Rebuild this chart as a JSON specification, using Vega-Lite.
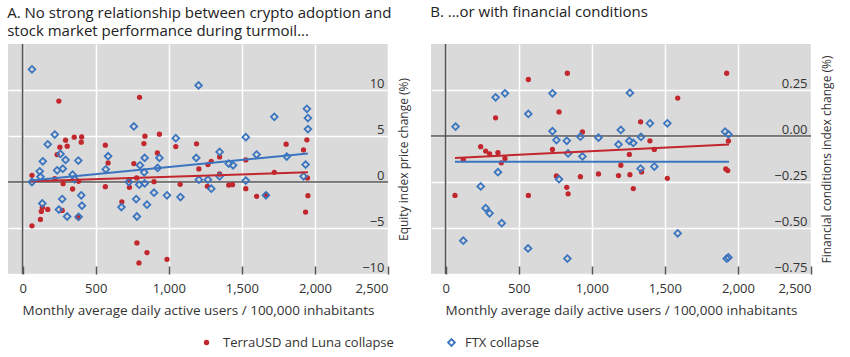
{
  "$schema": "https://vega.github.io/schema/vega-lite/v6.json",
  "padding": {"left": 7, "top": 5, "right": 5, "bottom": 5},
  "background": "white",
  "bounds": "flush",
  "spacing": 43,
  "config": {
    "font": "Open Sans",
    "view": {"fill": "#dadada", "stroke": null},
    "axis": {"grid": true, "gridColor": "white", "gridWidth": 1.5, "domain": false, "labelFontSize": 13, "labelColor": "#333", "titleFontSize": 13.5, "titleFontWeight": "normal", "titleColor": "#333", "labelOverlap": false},
    "axisX": {"tickSize": -8, "tickColor": "#555", "tickWidth": 1.5, "labelPadding": 16, "titlePadding": 8},
    "axisY": {"ticks": false, "labelAlign": "right", "labelPadding": -4, "labelBaseline": "bottom", "titleAngle": 270, "titleFontSize": 12, "titlePadding": 22},
    "title": {"anchor": "start", "fontSize": 15, "fontWeight": "normal", "color": "#222", "lineHeight": 18.5},
    "legend": {"labelFontSize": 13, "labelColor": "#333", "labelLimit": 400}
  },
  "datasets": {
    "pts": [
      {"p":"A","s":"TerraUSD and Luna collapse","x":64,"y":0.73},{"p":"A","s":"TerraUSD and Luna collapse","x":64,"y":-4.76},{"p":"A","s":"TerraUSD and Luna collapse","x":122,"y":-4.07},{"p":"A","s":"TerraUSD and Luna collapse","x":128,"y":-3.2},{"p":"A","s":"TerraUSD and Luna collapse","x":135,"y":-2.76},{"p":"A","s":"TerraUSD and Luna collapse","x":172,"y":-2.98},{"p":"A","s":"TerraUSD and Luna collapse","x":271,"y":-3.09},{"p":"A","s":"TerraUSD and Luna collapse","x":220,"y":0.36},{"p":"A","s":"TerraUSD and Luna collapse","x":277,"y":-0.18},{"p":"A","s":"TerraUSD and Luna collapse","x":342,"y":-0.76},{"p":"A","s":"TerraUSD and Luna collapse","x":383,"y":0.07},{"p":"A","s":"TerraUSD and Luna collapse","x":378,"y":-3.82},{"p":"A","s":"TerraUSD and Luna collapse","x":236,"y":2.98},{"p":"A","s":"TerraUSD and Luna collapse","x":255,"y":3.78},{"p":"A","s":"TerraUSD and Luna collapse","x":294,"y":4.55},{"p":"A","s":"TerraUSD and Luna collapse","x":305,"y":3.89},{"p":"A","s":"TerraUSD and Luna collapse","x":353,"y":4.87},{"p":"A","s":"TerraUSD and Luna collapse","x":404,"y":4.9},{"p":"A","s":"TerraUSD and Luna collapse","x":401,"y":4.33},{"p":"A","s":"TerraUSD and Luna collapse","x":248,"y":8.8},{"p":"A","s":"TerraUSD and Luna collapse","x":566,"y":4.0},{"p":"A","s":"TerraUSD and Luna collapse","x":585,"y":2.07},{"p":"A","s":"TerraUSD and Luna collapse","x":566,"y":-0.51},{"p":"A","s":"TerraUSD and Luna collapse","x":800,"y":9.2},{"p":"A","s":"TerraUSD and Luna collapse","x":837,"y":4.98},{"p":"A","s":"TerraUSD and Luna collapse","x":830,"y":4.18},{"p":"A","s":"TerraUSD and Luna collapse","x":936,"y":5.2},{"p":"A","s":"TerraUSD and Luna collapse","x":922,"y":3.16},{"p":"A","s":"TerraUSD and Luna collapse","x":761,"y":2.0},{"p":"A","s":"TerraUSD and Luna collapse","x":729,"y":0.25},{"p":"A","s":"TerraUSD and Luna collapse","x":731,"y":-0.58},{"p":"A","s":"TerraUSD and Luna collapse","x":780,"y":0.44},{"p":"A","s":"TerraUSD and Luna collapse","x":899,"y":0.04},{"p":"A","s":"TerraUSD and Luna collapse","x":679,"y":-2.15},{"p":"A","s":"TerraUSD and Luna collapse","x":782,"y":-6.62},{"p":"A","s":"TerraUSD and Luna collapse","x":851,"y":-7.67},{"p":"A","s":"TerraUSD and Luna collapse","x":796,"y":-8.8},{"p":"A","s":"TerraUSD and Luna collapse","x":988,"y":-8.4},{"p":"A","s":"TerraUSD and Luna collapse","x":1048,"y":3.85},{"p":"A","s":"TerraUSD and Luna collapse","x":1078,"y":-0.25},{"p":"A","s":"TerraUSD and Luna collapse","x":1190,"y":4.15},{"p":"A","s":"TerraUSD and Luna collapse","x":1206,"y":1.42},{"p":"A","s":"TerraUSD and Luna collapse","x":1268,"y":1.89},{"p":"A","s":"TerraUSD and Luna collapse","x":1291,"y":2.25},{"p":"A","s":"TerraUSD and Luna collapse","x":1264,"y":-0.47},{"p":"A","s":"TerraUSD and Luna collapse","x":1348,"y":2.73},{"p":"A","s":"TerraUSD and Luna collapse","x":1348,"y":0.87},{"p":"A","s":"TerraUSD and Luna collapse","x":1410,"y":-0.33},{"p":"A","s":"TerraUSD and Luna collapse","x":1436,"y":-0.29},{"p":"A","s":"TerraUSD and Luna collapse","x":1527,"y":2.4},{"p":"A","s":"TerraUSD and Luna collapse","x":1527,"y":-0.73},{"p":"A","s":"TerraUSD and Luna collapse","x":1601,"y":-1.56},{"p":"A","s":"TerraUSD and Luna collapse","x":1665,"y":-1.38},{"p":"A","s":"TerraUSD and Luna collapse","x":1722,"y":1.05},{"p":"A","s":"TerraUSD and Luna collapse","x":1803,"y":4.11},{"p":"A","s":"TerraUSD and Luna collapse","x":1922,"y":3.49},{"p":"A","s":"TerraUSD and Luna collapse","x":1945,"y":4.58},{"p":"A","s":"TerraUSD and Luna collapse","x":1949,"y":0.44},{"p":"A","s":"TerraUSD and Luna collapse","x":1952,"y":-1.49},{"p":"A","s":"TerraUSD and Luna collapse","x":1936,"y":-3.27},
      {"p":"A","s":"FTX collapse","x":64,"y":12.25},{"p":"A","s":"FTX collapse","x":220,"y":5.16},{"p":"A","s":"FTX collapse","x":172,"y":4.1},{"p":"A","s":"FTX collapse","x":138,"y":2.25},{"p":"A","s":"FTX collapse","x":117,"y":1.16},{"p":"A","s":"FTX collapse","x":122,"y":0.58},{"p":"A","s":"FTX collapse","x":64,"y":0},{"p":"A","s":"FTX collapse","x":236,"y":1.27},{"p":"A","s":"FTX collapse","x":275,"y":1.45},{"p":"A","s":"FTX collapse","x":294,"y":2.4},{"p":"A","s":"FTX collapse","x":259,"y":3.05},{"p":"A","s":"FTX collapse","x":342,"y":0.8},{"p":"A","s":"FTX collapse","x":356,"y":0.29},{"p":"A","s":"FTX collapse","x":381,"y":2.33},{"p":"A","s":"FTX collapse","x":401,"y":-1.45},{"p":"A","s":"FTX collapse","x":406,"y":-2.58},{"p":"A","s":"FTX collapse","x":383,"y":-3.78},{"p":"A","s":"FTX collapse","x":305,"y":-3.75},{"p":"A","s":"FTX collapse","x":248,"y":-3.0},{"p":"A","s":"FTX collapse","x":271,"y":-1.85},{"p":"A","s":"FTX collapse","x":135,"y":-2.33},{"p":"A","s":"FTX collapse","x":569,"y":1.38},{"p":"A","s":"FTX collapse","x":585,"y":2.8},{"p":"A","s":"FTX collapse","x":761,"y":6.04},{"p":"A","s":"FTX collapse","x":803,"y":1.82},{"p":"A","s":"FTX collapse","x":835,"y":2.62},{"p":"A","s":"FTX collapse","x":832,"y":1.05},{"p":"A","s":"FTX collapse","x":798,"y":-0.29},{"p":"A","s":"FTX collapse","x":835,"y":-0.15},{"p":"A","s":"FTX collapse","x":727,"y":0},{"p":"A","s":"FTX collapse","x":777,"y":-1.85},{"p":"A","s":"FTX collapse","x":851,"y":-2.47},{"p":"A","s":"FTX collapse","x":676,"y":-2.73},{"p":"A","s":"FTX collapse","x":782,"y":-3.75},{"p":"A","s":"FTX collapse","x":899,"y":-1.16},{"p":"A","s":"FTX collapse","x":936,"y":2.62},{"p":"A","s":"FTX collapse","x":924,"y":1.53},{"p":"A","s":"FTX collapse","x":988,"y":-1.45},{"p":"A","s":"FTX collapse","x":1048,"y":4.76},{"p":"A","s":"FTX collapse","x":1080,"y":-1.64},{"p":"A","s":"FTX collapse","x":1188,"y":2.62},{"p":"A","s":"FTX collapse","x":1204,"y":10.5},{"p":"A","s":"FTX collapse","x":1206,"y":0.25},{"p":"A","s":"FTX collapse","x":1268,"y":0.25},{"p":"A","s":"FTX collapse","x":1291,"y":-0.73},{"p":"A","s":"FTX collapse","x":1348,"y":0.62},{"p":"A","s":"FTX collapse","x":1348,"y":3.27},{"p":"A","s":"FTX collapse","x":1410,"y":2.0},{"p":"A","s":"FTX collapse","x":1440,"y":1.82},{"p":"A","s":"FTX collapse","x":1527,"y":4.87},{"p":"A","s":"FTX collapse","x":1527,"y":0.15},{"p":"A","s":"FTX collapse","x":1601,"y":2.98},{"p":"A","s":"FTX collapse","x":1665,"y":-1.45},{"p":"A","s":"FTX collapse","x":1722,"y":7.09},{"p":"A","s":"FTX collapse","x":1807,"y":2.76},{"p":"A","s":"FTX collapse","x":1945,"y":7.96},{"p":"A","s":"FTX collapse","x":1952,"y":6.95},{"p":"A","s":"FTX collapse","x":1952,"y":5.75},{"p":"A","s":"FTX collapse","x":1936,"y":1.89},{"p":"A","s":"FTX collapse","x":1922,"y":0.62},
      {"p":"B","s":"TerraUSD and Luna collapse","x":833,"y":0.341},{"p":"B","s":"TerraUSD and Luna collapse","x":566,"y":0.307},{"p":"B","s":"TerraUSD and Luna collapse","x":342,"y":0.099},{"p":"B","s":"TerraUSD and Luna collapse","x":776,"y":0.131},{"p":"B","s":"TerraUSD and Luna collapse","x":240,"y":-0.058},{"p":"B","s":"TerraUSD and Luna collapse","x":274,"y":-0.082},{"p":"B","s":"TerraUSD and Luna collapse","x":301,"y":-0.097},{"p":"B","s":"TerraUSD and Luna collapse","x":358,"y":-0.091},{"p":"B","s":"TerraUSD and Luna collapse","x":406,"y":-0.122},{"p":"B","s":"TerraUSD and Luna collapse","x":381,"y":-0.146},{"p":"B","s":"TerraUSD and Luna collapse","x":121,"y":-0.128},{"p":"B","s":"TerraUSD and Luna collapse","x":64,"y":-0.323},{"p":"B","s":"TerraUSD and Luna collapse","x":566,"y":-0.323},{"p":"B","s":"TerraUSD and Luna collapse","x":731,"y":-0.073},{"p":"B","s":"TerraUSD and Luna collapse","x":758,"y":-0.217},{"p":"B","s":"TerraUSD and Luna collapse","x":829,"y":-0.279},{"p":"B","s":"TerraUSD and Luna collapse","x":838,"y":-0.314},{"p":"B","s":"TerraUSD and Luna collapse","x":922,"y":-0.221},{"p":"B","s":"TerraUSD and Luna collapse","x":936,"y":0.022},{"p":"B","s":"TerraUSD and Luna collapse","x":1046,"y":-0.206},{"p":"B","s":"TerraUSD and Luna collapse","x":1183,"y":-0.215},{"p":"B","s":"TerraUSD and Luna collapse","x":1199,"y":-0.159},{"p":"B","s":"TerraUSD and Luna collapse","x":1257,"y":-0.1},{"p":"B","s":"TerraUSD and Luna collapse","x":1261,"y":-0.21},{"p":"B","s":"TerraUSD and Luna collapse","x":1284,"y":-0.286},{"p":"B","s":"TerraUSD and Luna collapse","x":1334,"y":0.077},{"p":"B","s":"TerraUSD and Luna collapse","x":1341,"y":-0.195},{"p":"B","s":"TerraUSD and Luna collapse","x":1398,"y":-0.026},{"p":"B","s":"TerraUSD and Luna collapse","x":1428,"y":-0.073},{"p":"B","s":"TerraUSD and Luna collapse","x":1517,"y":-0.23},{"p":"B","s":"TerraUSD and Luna collapse","x":1588,"y":0.206},{"p":"B","s":"TerraUSD and Luna collapse","x":1923,"y":0.341},{"p":"B","s":"TerraUSD and Luna collapse","x":1935,"y":-0.027},{"p":"B","s":"TerraUSD and Luna collapse","x":1917,"y":-0.179},{"p":"B","s":"TerraUSD and Luna collapse","x":1930,"y":-0.188},
      {"p":"B","s":"FTX collapse","x":68,"y":0.051},{"p":"B","s":"FTX collapse","x":342,"y":0.21},{"p":"B","s":"FTX collapse","x":406,"y":0.232},{"p":"B","s":"FTX collapse","x":358,"y":-0.197},{"p":"B","s":"FTX collapse","x":240,"y":-0.274},{"p":"B","s":"FTX collapse","x":274,"y":-0.392},{"p":"B","s":"FTX collapse","x":301,"y":-0.42},{"p":"B","s":"FTX collapse","x":384,"y":-0.474},{"p":"B","s":"FTX collapse","x":121,"y":-0.569},{"p":"B","s":"FTX collapse","x":566,"y":0.12},{"p":"B","s":"FTX collapse","x":564,"y":-0.611},{"p":"B","s":"FTX collapse","x":731,"y":0.232},{"p":"B","s":"FTX collapse","x":731,"y":0.026},{"p":"B","s":"FTX collapse","x":758,"y":-0.022},{"p":"B","s":"FTX collapse","x":829,"y":-0.026},{"p":"B","s":"FTX collapse","x":838,"y":-0.095},{"p":"B","s":"FTX collapse","x":776,"y":-0.235},{"p":"B","s":"FTX collapse","x":833,"y":-0.666},{"p":"B","s":"FTX collapse","x":922,"y":-0.004},{"p":"B","s":"FTX collapse","x":936,"y":-0.111},{"p":"B","s":"FTX collapse","x":1046,"y":-0.009},{"p":"B","s":"FTX collapse","x":1183,"y":-0.046},{"p":"B","s":"FTX collapse","x":1199,"y":0.033},{"p":"B","s":"FTX collapse","x":1261,"y":0.234},{"p":"B","s":"FTX collapse","x":1257,"y":-0.027},{"p":"B","s":"FTX collapse","x":1284,"y":-0.038},{"p":"B","s":"FTX collapse","x":1337,"y":-0.005},{"p":"B","s":"FTX collapse","x":1398,"y":0.069},{"p":"B","s":"FTX collapse","x":1334,"y":-0.177},{"p":"B","s":"FTX collapse","x":1428,"y":-0.166},{"p":"B","s":"FTX collapse","x":1517,"y":0.069},{"p":"B","s":"FTX collapse","x":1588,"y":-0.529},{"p":"B","s":"FTX collapse","x":1912,"y":0.024},{"p":"B","s":"FTX collapse","x":1935,"y":0.009},{"p":"B","s":"FTX collapse","x":1923,"y":-0.666},{"p":"B","s":"FTX collapse","x":1935,"y":-0.66}
    ],
    "fit": [
      {"p":"A","s":"TerraUSD and Luna collapse","x":55,"y":0.07},{"p":"A","s":"TerraUSD and Luna collapse","x":1952,"y":1.05},
      {"p":"A","s":"FTX collapse","x":55,"y":0.15},{"p":"A","s":"FTX collapse","x":1952,"y":3.1},
      {"p":"B","s":"TerraUSD and Luna collapse","x":64,"y":-0.119},{"p":"B","s":"TerraUSD and Luna collapse","x":1939,"y":-0.046},
      {"p":"B","s":"FTX collapse","x":64,"y":-0.14},{"p":"B","s":"FTX collapse","x":1939,"y":-0.14}
    ]
  },
  "resolve": {"scale": {"fill": "independent", "stroke": "independent"}, "legend": {"fill": "independent", "stroke": "independent"}},
  "hconcat": [
    {
      "width": 380, "height": 230,
      "title": {"text": ["A. No strong relationship between crypto adoption and", "stock market performance during turmoil..."], "offset": 4},
      "layer": [
        {"data": {"values": [{}]}, "mark": {"type": "rule", "color": "#555", "strokeWidth": 1.6}, "encoding": {"y": {"datum": 0, "type": "quantitative"}}},
        {"data": {"values": [{}]}, "mark": {"type": "rule", "color": "#555", "strokeWidth": 1.6}, "encoding": {"x": {"datum": 0, "type": "quantitative"}}},
        {"data": {"name": "pts"}, "transform": [{"filter": "datum.p == 'A' && datum.s == 'TerraUSD and Luna collapse'"}],
         "mark": {"type": "circle", "size": 28, "opacity": 1},
         "encoding": {
           "x": {"field": "x", "type": "quantitative", "scale": {"domain": [-100, 2500], "nice": false, "zero": false}, "axis": {"values": [0, 500, 1000, 1500, 2000, 2500], "format": ",.0f", "title": "Monthly average daily active users / 100,000 inhabitants"}},
           "y": {"field": "y", "type": "quantitative", "scale": {"domain": [-10, 15], "nice": false}, "axis": {"orient": "right", "values": [-10, -5, 0, 5, 10], "format": ".0f", "title": "Equity index price change (%)"}},
           "fill": {"field": "s", "type": "nominal", "scale": {"domain": ["TerraUSD and Luna collapse"], "range": ["#c1272d"]}, "legend": {"orient": "none", "legendX": 192, "legendY": 292, "title": null, "symbolSize": 28, "labelOffset": 10}}
         }},
        {"data": {"name": "pts"}, "transform": [{"filter": "datum.p == 'A' && datum.s == 'FTX collapse'"}],
         "mark": {"type": "point", "shape": "diamond", "filled": false, "size": 45, "strokeWidth": 1.8, "opacity": 1},
         "encoding": {
           "x": {"field": "x", "type": "quantitative", "title": "Monthly average daily active users / 100,000 inhabitants"},
           "y": {"field": "y", "type": "quantitative", "title": "Equity index price change (%)"},
           "stroke": {"field": "s", "type": "nominal", "scale": {"domain": ["FTX collapse"], "range": ["#3b75bf"]}, "legend": null}
         }},
        {"data": {"name": "fit"}, "transform": [{"filter": "datum.p == 'A' && datum.s == 'TerraUSD and Luna collapse'"}],
         "mark": {"type": "line", "color": "#c1272d", "strokeWidth": 2},
         "encoding": {"x": {"field": "x", "type": "quantitative", "title": "Monthly average daily active users / 100,000 inhabitants"}, "y": {"field": "y", "type": "quantitative", "title": "Equity index price change (%)"}}},
        {"data": {"name": "fit"}, "transform": [{"filter": "datum.p == 'A' && datum.s == 'FTX collapse'"}],
         "mark": {"type": "line", "color": "#3b75bf", "strokeWidth": 2},
         "encoding": {"x": {"field": "x", "type": "quantitative", "title": "Monthly average daily active users / 100,000 inhabitants"}, "y": {"field": "y", "type": "quantitative", "title": "Equity index price change (%)"}}}
      ]
    },
    {
      "width": 380, "height": 230,
      "title": {"text": "B. ...or with financial conditions", "offset": 23},
      "layer": [
        {"data": {"values": [{}]}, "mark": {"type": "rule", "color": "#555", "strokeWidth": 1.6}, "encoding": {"y": {"datum": 0, "type": "quantitative"}}},
        {"data": {"values": [{}]}, "mark": {"type": "rule", "color": "#555", "strokeWidth": 1.6}, "encoding": {"x": {"datum": 0, "type": "quantitative"}}},
        {"data": {"name": "pts"}, "transform": [{"filter": "datum.p == 'B' && datum.s == 'TerraUSD and Luna collapse'"}],
         "mark": {"type": "circle", "size": 28, "opacity": 1},
         "encoding": {
           "x": {"field": "x", "type": "quantitative", "scale": {"domain": [-100, 2500], "nice": false, "zero": false}, "axis": {"values": [0, 500, 1000, 1500, 2000, 2500], "format": ",.0f", "title": "Monthly average daily active users / 100,000 inhabitants"}},
           "y": {"field": "y", "type": "quantitative", "scale": {"domain": [-0.75, 0.5], "nice": false}, "axis": {"orient": "right", "values": [-0.75, -0.5, -0.25, 0, 0.25], "format": ".2f", "title": "Financial conditions index change (%)"}},
           "fill": {"field": "s", "type": "nominal", "scale": {"domain": ["TerraUSD and Luna collapse"], "range": ["#c1272d"]}, "legend": null}
         }},
        {"data": {"name": "pts"}, "transform": [{"filter": "datum.p == 'B' && datum.s == 'FTX collapse'"}],
         "mark": {"type": "point", "shape": "diamond", "filled": false, "size": 45, "strokeWidth": 1.8, "opacity": 1},
         "encoding": {
           "x": {"field": "x", "type": "quantitative", "title": "Monthly average daily active users / 100,000 inhabitants"},
           "y": {"field": "y", "type": "quantitative", "title": "Financial conditions index change (%)"},
           "stroke": {"field": "s", "type": "nominal", "scale": {"domain": ["FTX collapse"], "range": ["#3b75bf"]}, "legend": {"orient": "none", "legendX": 14, "legendY": 292, "title": null, "symbolType": "diamond", "symbolSize": 45, "symbolStrokeWidth": 1.8, "labelOffset": 7}}
         }},
        {"data": {"name": "fit"}, "transform": [{"filter": "datum.p == 'B' && datum.s == 'TerraUSD and Luna collapse'"}],
         "mark": {"type": "line", "color": "#c1272d", "strokeWidth": 2},
         "encoding": {"x": {"field": "x", "type": "quantitative", "title": "Monthly average daily active users / 100,000 inhabitants"}, "y": {"field": "y", "type": "quantitative", "title": "Financial conditions index change (%)"}}},
        {"data": {"name": "fit"}, "transform": [{"filter": "datum.p == 'B' && datum.s == 'FTX collapse'"}],
         "mark": {"type": "line", "color": "#3b75bf", "strokeWidth": 2},
         "encoding": {"x": {"field": "x", "type": "quantitative", "title": "Monthly average daily active users / 100,000 inhabitants"}, "y": {"field": "y", "type": "quantitative", "title": "Financial conditions index change (%)"}}}
      ]
    }
  ]
}
